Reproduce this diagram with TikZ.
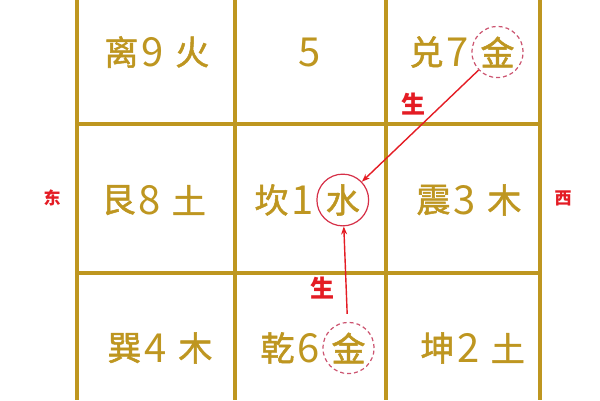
\documentclass[tikz,border=0pt]{standalone}
\usepackage{fontspec}
\usetikzlibrary{positioning,arrows.meta}
\newfontfamily\cjk{Noto Sans CJK SC}
\newfontfamily\cjkheavy[FakeBold=1.5]{Noto Sans CJK SC}
\definecolor{gold}{RGB}{190,150,32}
\definecolor{shengred}{RGB}{228,28,36}
\definecolor{ringred}{RGB}{214,48,72}
\definecolor{dashpink}{RGB}{204,84,112}
\def\gridleft{77}
\def\gridright{540}
\tikzset{
  gridline/.style={draw=gold, line width=4pt},
  gua/.style={inner sep=0pt, text=gold, font=\cjkheavy\fontsize{34}{34}\selectfont},
  shu/.style={inner sep=0pt, text=gold, font=\cjk\fontsize{40}{40}\selectfont},
  wx/.style={gua, circle, inner sep=2pt},
  plain/.style={},
  ring/.style={draw=ringred, line width=1.2pt},
  dashring/.style={draw=dashpink, line width=1.2pt, dash pattern=on 4pt off 3pt},
  sheng/.style={-{Stealth[length=8pt,width=6pt]}, draw=shengred, line width=1.4pt},
  fang/.style={text=shengred, font=\cjk\bfseries\fontsize{17}{17}\selectfont},
  shenglabel/.style={text=shengred, font=\cjk\bfseries\fontsize{24}{24}\selectfont}
}
\begin{document}
\begin{tikzpicture}[x=1pt, y=-1pt]
\fill[white] (0,0) rectangle (600,400);
\useasboundingbox (0,0) rectangle (600,400);

% grid
\foreach \x in {77,235,386,540}
  \draw[gridline] (\x,0) -- (\x,400);
\foreach \y in {124,273}
  \draw[gridline] (\gridleft,\y) -- (\gridright,\y);

\foreach \gua/\num/\wx/\cx/\cy/\name/\ring in {
    离/9/火/153/52/li/plain, 兑/7/金/458/52/dui/dashring,
    艮/8/土/150/200/gen/plain, 坎/1/水/303/200/kan/ring, 震/3/木/465/200/zhen/plain,
    巽/4/木/156/348/xun/plain, 乾/6/金/309/348/qian/dashring, 坤/2/土/469/348/kun/plain} {
  \node[shu] (\name-shu) at (\cx,\cy) {\num};
  \node[gua, left=3pt of \name-shu] (\name-gua) {\gua};
  \node[wx, \ring, right=2pt of \name-shu] (\name-wx) {\wx};
}
\node[shu] (zhong) at (310,52) {5};

\node[fang] (dong) at (52,198) {东};
\node[fang] (xi) at (563,198) {西};

\draw[sheng] (dui-wx) -- (kan-wx) node[shenglabel, pos=0.3, left=14pt] {生};
\draw[sheng, shorten <=8pt] (qian-wx) -- (kan-wx) node[shenglabel, pos=0.35, left=8pt] {生};
\end{tikzpicture}
\end{document}
